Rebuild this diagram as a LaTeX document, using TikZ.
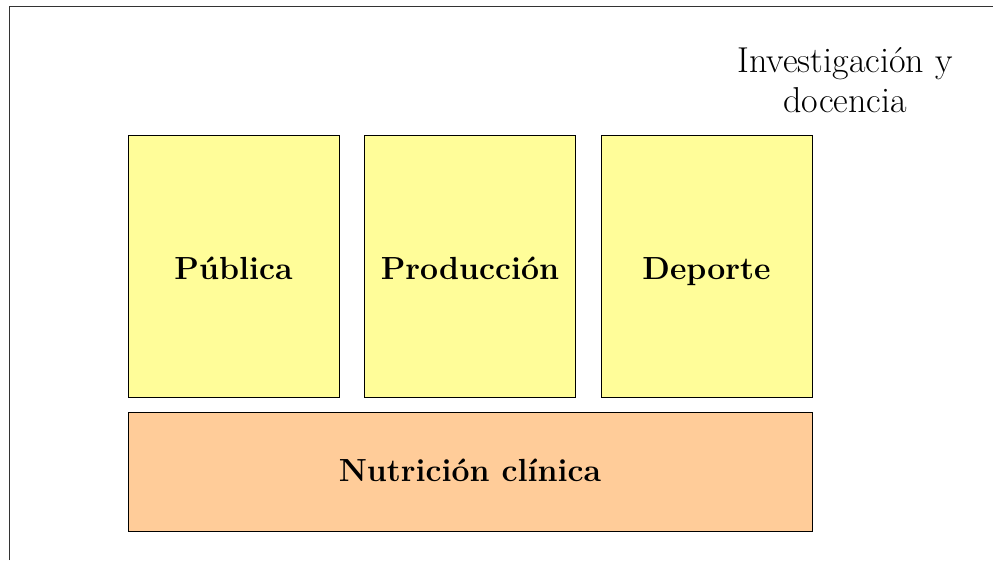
\documentclass[tikz,border=0pt]{standalone}
\usepackage{tikz}
\definecolor{fieldyellow}{RGB}{255,253,153}
\definecolor{baseorange}{RGB}{255,204,153}
\tikzset{
  field/.style={draw=black, line width=1pt, fill=fieldyellow, inner sep=0pt,
    minimum width=211pt, minimum height=262pt, text height=29pt, text depth=3pt,
    font=\fontsize{32}{38}\selectfont\bfseries},
  basefield/.style={field, fill=baseorange, minimum width=684pt, minimum height=119pt,
    text height=25pt, text depth=5pt}
}
\begin{document}
\begin{tikzpicture}[x=1pt,y=-1pt]
\useasboundingbox (0,0) rectangle (993,560);
\fill [white] (0,0) rectangle (993,560);
\draw [black!80, line width=1pt] (9,560) -- (9,6) -- (993,6);
% areas
\node [field] (publica) at (233.5,266) {Pública};
\node [field] (produccion) at (470,266) {Producción};
\node [field] (deporte) at (706.5,266) {Deporte};
\node [basefield] (clinica) at (470,471.5) {Nutrición clínica};
% title
\node [align=center, font=\fontsize{36}{40}\selectfont] (docencia) at (845,80) {Investigación y\\docencia};
\end{tikzpicture}
\end{document}
